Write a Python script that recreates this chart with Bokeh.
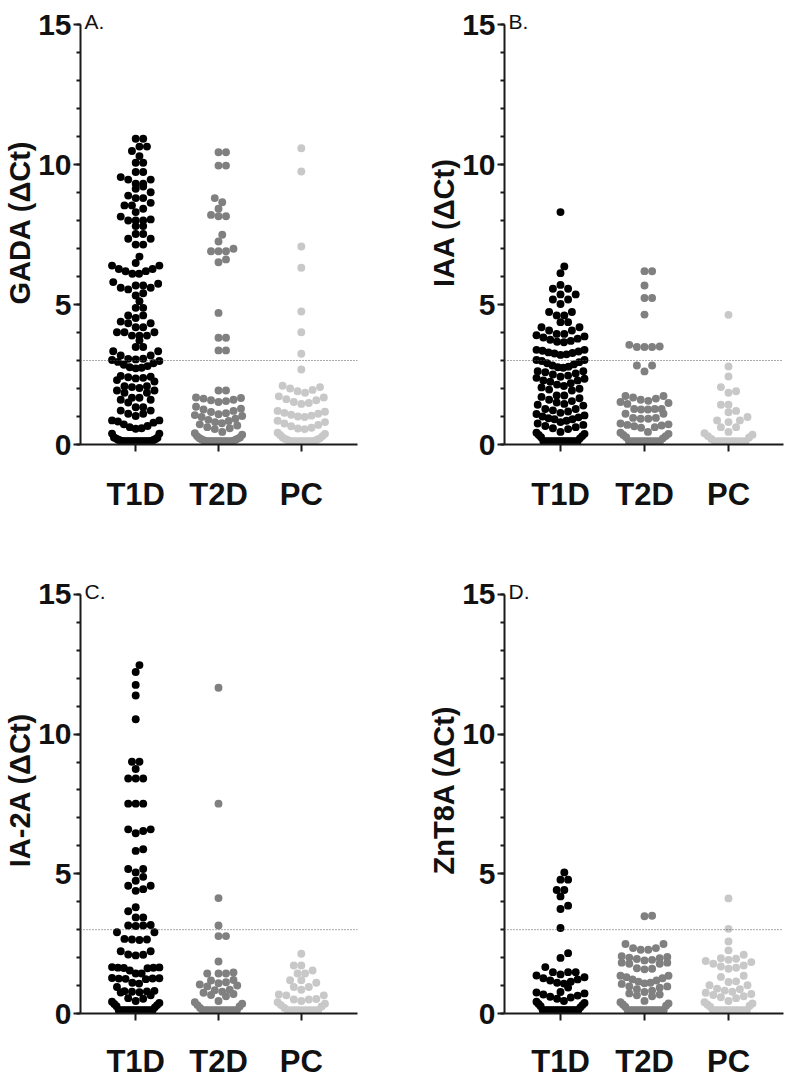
import math
from bokeh.plotting import figure
from bokeh.layouts import gridplot
from bokeh.models import Range1d, FixedTicker, Span, Label, ColumnDataSource, LinearAxis
from bokeh.embed import file_html
from bokeh.resources import INLINE

groups = ["T1D", "T2D", "PC"]
colors = ["#000000", "#808080", "#c8c8c8"]
cutoff = 3.0

gada_t1d = [10.92, 10.92, 10.64, 10.64, 10.48, 10.30, 10.06, 10.06, 9.73, 9.73, 9.55, 9.46, 9.46, 9.31, 9.31,
            9.21, 9.13, 9.01, 8.89, 8.80, 8.80, 8.63, 8.54, 8.54, 8.42, 8.30, 8.14, 8.04, 8.00, 8.00, 8.00,
            7.80, 7.80, 7.52, 7.52, 7.35, 7.35, 7.14, 7.14, 6.71, 6.48, 6.39, 6.39, 6.27, 6.27, 6.19, 6.19,
            6.10, 6.10, 5.80, 5.74, 5.68, 5.68, 5.60, 5.60, 5.54, 5.40, 5.32, 5.12, 4.88, 4.88, 4.61, 4.61,
            4.52, 4.39, 4.33, 4.33, 4.19, 4.19, 4.01, 4.01, 4.01, 3.89, 3.89, 3.89, 3.71, 3.48, 3.48, 3.33,
            3.33, 3.18, 3.18, 3.06, 3.06, 3.04, 3.02, 2.98, 2.95, 2.90, 2.85, 2.80, 2.76, 2.74, 2.72, 2.45,
            2.42, 2.40, 2.38, 2.36, 2.30, 2.25, 2.08, 2.08, 2.05, 2.02, 1.93, 1.93, 1.85, 1.85, 1.67, 1.67,
            1.60, 1.60, 1.50, 1.33, 1.33, 1.21, 1.21, 1.10, 1.10, 1.02, 0.86, 0.86, 0.82, 0.78, 0.72, 0.66,
            0.62, 0.58, 0.56, 0.39, 0.39, 0.25, 0.24, 0.22, 0.20, 0.18, 0.16, 0.15, 0.14, 0.13, 0.12, 0.12,
            0.12, 0.12, 0.12, 0.12, 0.12, 0.12, 0.12, 0.12, 0.12, 0.12, 0.12, 0.12, 0.12]
gada_t2d = [10.44, 10.44, 9.96, 9.96, 8.80, 8.65, 8.42, 8.20, 8.15, 8.15, 7.49, 7.25, 6.99, 6.90, 6.90, 6.90,
            6.61, 6.51, 4.70, 3.81, 3.81, 3.36, 3.36, 1.93, 1.93, 1.68, 1.66, 1.64, 1.60, 1.58, 1.55, 1.52,
            1.35, 1.28, 1.25, 1.20, 1.16, 1.12, 1.08, 1.05, 1.02, 0.98, 0.92, 0.88, 0.84, 0.80, 0.76, 0.72,
            0.68, 0.62, 0.58, 0.55, 0.45, 0.40, 0.35, 0.30, 0.25, 0.23, 0.21, 0.19, 0.17, 0.15, 0.14, 0.13,
            0.12, 0.12, 0.12, 0.12, 0.12, 0.12, 0.12, 0.12, 0.12, 0.12, 0.12, 0.12]
gada_pc = [10.58, 9.75, 7.07, 6.31, 4.75, 4.01, 3.24, 2.68, 2.10, 2.05, 2.00, 1.95, 1.90, 1.85, 1.72, 1.68,
           1.62, 1.58, 1.52, 1.48, 1.45, 1.20, 1.17, 1.13, 1.10, 1.06, 1.03, 1.00, 0.98, 0.85, 0.80, 0.75,
           0.70, 0.65, 0.60, 0.57, 0.55, 0.42, 0.38, 0.34, 0.30, 0.25, 0.22, 0.20, 0.18, 0.16, 0.14, 0.12,
           0.12, 0.12, 0.12, 0.12, 0.12, 0.12, 0.12, 0.12, 0.12]

iaa_t1d = [8.30, 6.36, 6.12, 5.70, 5.56, 5.56, 5.36, 5.36, 5.18, 5.18, 5.02, 4.73, 4.73, 4.61, 4.61, 4.37,
           4.37, 4.19, 4.19, 4.07, 4.07, 3.95, 3.95, 3.90, 3.86, 3.82, 3.78, 3.74, 3.70, 3.67, 3.65, 3.38,
           3.38, 3.35, 3.32, 3.29, 3.27, 3.25, 3.22, 3.20, 3.02, 3.02, 2.98, 2.94, 2.90, 2.86, 2.82, 2.78,
           2.76, 2.74, 2.62, 2.62, 2.58, 2.54, 2.50, 2.46, 2.42, 2.38, 2.35, 2.29, 2.29, 2.24, 2.19, 2.14,
           2.09, 2.04, 1.99, 1.96, 1.93, 1.75, 1.75, 1.70, 1.65, 1.60, 1.55, 1.50, 1.45, 1.42, 1.39, 1.27,
           1.27, 1.22, 1.18, 1.13, 1.09, 1.04, 1.00, 0.97, 0.94, 0.90, 0.90, 0.85, 0.80, 0.75, 0.70, 0.66,
           0.62, 0.58, 0.55, 0.45, 0.42, 0.38, 0.34, 0.30, 0.26, 0.22, 0.12, 0.12, 0.12, 0.12, 0.12, 0.12,
           0.12, 0.12, 0.12, 0.12, 0.12, 0.12, 0.12, 0.12, 0.12, 0.12]
iaa_t2d = [6.19, 6.19, 5.68, 5.23, 5.23, 4.64, 3.56, 3.50, 3.48, 3.48, 3.48, 2.82, 2.82, 2.61, 1.73, 1.73,
           1.68, 1.64, 1.60, 1.56, 1.52, 1.48, 1.45, 1.27, 1.27, 1.27, 1.25, 1.25, 1.10, 1.10, 0.95, 0.95,
           0.92, 0.92, 0.75, 0.72, 0.70, 0.68, 0.65, 0.62, 0.60, 0.45, 0.42, 0.38, 0.34, 0.30, 0.26, 0.22,
           0.12, 0.12, 0.12, 0.12, 0.12, 0.12, 0.12, 0.12, 0.12, 0.12, 0.12, 0.12]
iaa_pc = [4.63, 2.79, 2.43, 2.05, 1.90, 1.85, 1.42, 1.42, 1.20, 1.15, 0.98, 0.86, 0.86, 0.80, 0.62, 0.62,
          0.45, 0.40, 0.35, 0.30, 0.25, 0.20, 0.12, 0.12, 0.12, 0.12, 0.12, 0.12, 0.12, 0.12, 0.12, 0.12]

ia2a_t1d = [12.47, 12.22, 11.76, 11.38, 10.53, 9.01, 9.01, 8.75, 8.41, 8.41, 8.41, 7.51, 7.51, 7.51, 6.59,
            6.59, 6.53, 6.45, 5.88, 5.82, 5.17, 5.17, 5.05, 4.89, 4.75, 4.57, 4.57, 4.45, 4.39, 3.80, 3.66,
            3.44, 3.44, 3.17, 3.15, 3.15, 3.13, 2.91, 2.91, 2.67, 2.65, 2.65, 2.63, 2.23, 2.23, 2.11, 2.10,
            2.08, 1.66, 1.65, 1.64, 1.64, 1.63, 1.62, 1.54, 1.43, 1.43, 1.27, 1.26, 1.25, 1.25, 1.24, 1.23,
            1.10, 1.07, 0.95, 0.81, 0.80, 0.79, 0.78, 0.76, 0.75, 0.65, 0.55, 0.53, 0.45, 0.42, 0.38, 0.34,
            0.30, 0.26, 0.22, 0.12, 0.12, 0.12, 0.12, 0.12, 0.12, 0.12, 0.12, 0.12, 0.12, 0.12, 0.12, 0.12,
            0.12, 0.12, 0.12]
ia2a_t2d = [11.66, 7.51, 4.13, 3.15, 2.77, 2.77, 1.86, 1.47, 1.43, 1.43, 1.43, 1.20, 1.18, 1.12, 1.08, 1.04,
            1.00, 0.97, 0.85, 0.83, 0.78, 0.74, 0.70, 0.66, 0.62, 0.45, 0.40, 0.35, 0.30, 0.25, 0.20, 0.12,
            0.12, 0.12, 0.12, 0.12, 0.12, 0.12, 0.12, 0.12, 0.12, 0.12, 0.12, 0.12, 0.12]
ia2a_pc = [2.14, 1.72, 1.72, 1.54, 1.43, 1.43, 1.19, 1.19, 1.10, 0.95, 0.95, 0.85, 0.68, 0.65, 0.65, 0.52,
           0.50, 0.50, 0.45, 0.40, 0.35, 0.30, 0.25, 0.20, 0.12, 0.12, 0.12, 0.12, 0.12, 0.12, 0.12, 0.12,
           0.12, 0.12]

znt8a_t1d = [5.05, 4.79, 4.79, 4.42, 4.42, 4.19, 3.86, 3.74, 3.06, 2.16, 1.99, 1.66, 1.48, 1.48, 1.48, 1.40,
             1.36, 1.30, 1.26, 1.22, 1.18, 1.14, 1.10, 1.07, 0.93, 0.77, 0.75, 0.72, 0.68, 0.64, 0.60, 0.57,
             0.53, 0.45, 0.42, 0.38, 0.34, 0.30, 0.26, 0.22, 0.12, 0.12, 0.12, 0.12, 0.12, 0.12, 0.12, 0.12,
             0.12, 0.12, 0.12, 0.12, 0.12, 0.12, 0.12, 0.12, 0.12, 0.12]
znt8a_t2d = [3.50, 3.48, 2.49, 2.49, 2.34, 2.34, 2.28, 2.28, 2.05, 2.02, 2.00, 1.98, 1.95, 1.92, 1.90, 1.82,
             1.82, 1.78, 1.78, 1.62, 1.60, 1.58, 1.35, 1.35, 1.30, 1.26, 1.22, 1.18, 1.14, 1.10, 1.08, 1.06,
             0.97, 0.97, 0.92, 0.87, 0.82, 0.77, 0.72, 0.68, 0.65, 0.62, 0.45, 0.40, 0.36, 0.32, 0.28, 0.24,
             0.12, 0.12, 0.12, 0.12, 0.12, 0.12, 0.12, 0.12, 0.12, 0.12, 0.12, 0.12, 0.12, 0.12, 0.12, 0.12]
znt8a_pc = [4.12, 3.03, 2.58, 2.26, 2.10, 1.98, 1.96, 1.92, 1.88, 1.84, 1.78, 1.72, 1.68, 1.64, 1.60, 1.35,
            1.31, 1.15, 1.13, 1.01, 1.01, 0.89, 0.87, 0.82, 0.78, 0.74, 0.70, 0.66, 0.62, 0.58, 0.55, 0.45,
            0.40, 0.36, 0.32, 0.28, 0.24, 0.12, 0.12, 0.12, 0.12, 0.12, 0.12, 0.12, 0.12, 0.12, 0.12, 0.12,
            0.12, 0.12]

panels = [
    ("A.", "GADA (\u0394Ct)", [gada_t1d, gada_t2d, gada_pc]),
    ("B.", "IAA (\u0394Ct)", [iaa_t1d, iaa_t2d, iaa_pc]),
    ("C.", "IA-2A (\u0394Ct)", [ia2a_t1d, ia2a_t2d, ia2a_pc]),
    ("D.", "ZnT8A (\u0394Ct)", [znt8a_t1d, znt8a_t2d, znt8a_pc]),
]

PX_PER_CAT = 84.0
DOT = 7.9          # marker diameter (px)
GAP = 7.6          # nominal centre distance in the swarm (px)
HALF_W = 24.0      # max half width of a swarm (px)
ROW_H = 0.30       # value span of one swarm row
FONT = "Liberation Sans"
INK = "#1a1a1a"


def row_slots(n, s):
    slots = []
    if n % 2:
        slots.append(0.0)
        j = 1
        while len(slots) < n:
            slots.append(j * s)
            if len(slots) < n:
                slots.append(-j * s)
            j += 1
    else:
        j = 0
        while len(slots) < n:
            slots.append((j + 0.5) * s)
            slots.append(-(j + 0.5) * s)
            j += 1
    return slots


def swarm(vals, center, sx, sy):
    """Prism-like scatter-dot layout: rows of near-equal values spread centre-out."""
    order = sorted(range(len(vals)), key=lambda i: vals[i])
    rows = []
    for i in order:
        if rows and vals[i] - vals[rows[-1][0]] <= ROW_H:
            rows[-1].append(i)
        else:
            rows.append([i])
    grid = [0.0]
    k = 1
    while k * GAP / 2 <= HALF_W + 1e-9:
        grid += [k * GAP / 2, -k * GAP / 2]
        k += 1
    placed = []
    out = [0.0] * len(vals)
    for row in rows:
        n = len(row)
        if n >= 5:
            s = min(GAP, 2 * HALF_W / (n - 1))
            for i, c in zip(row, row_slots(n, s)):
                placed.append((c, vals[i] * sy))
                out[i] = center + c / sx
        else:
            for i in row:
                y = vals[i] * sy
                near = [(px, py) for px, py in placed if abs(py - y) < GAP]
                chosen, best, bestd = None, 0.0, -1.0
                for c in grid:
                    md = min((math.hypot(c - px, y - py) for px, py in near), default=1e9)
                    if md >= GAP * 0.98:
                        chosen = c
                        break
                    if md > bestd + 1e-9:
                        bestd, best = md, c
                if chosen is None:
                    chosen = best
                placed.append((chosen, y))
                out[i] = center + chosen / sx
    return out


def make_panel(letter, ylabel, data, w, h, left, right, top, bottom, extra_top, xstand):
    fw = w - left - right
    fh = h - top - bottom
    sy = (fh - extra_top) / 15.0
    x0 = 1 - 56.0 / PX_PER_CAT
    p = figure(width=w, height=h, output_backend="svg", toolbar_location=None,
               x_range=Range1d(x0, x0 + fw / PX_PER_CAT),
               y_range=Range1d(0, 15 + extra_top / sy),
               min_border_left=left, min_border_right=right,
               min_border_top=top, min_border_bottom=bottom)
    p.xgrid.visible = False
    p.ygrid.visible = False
    p.outline_line_color = None
    p.background_fill_color = "white"
    p.border_fill_color = "white"
    for gi, vals in enumerate(data):
        xs = swarm(vals, gi + 1, PX_PER_CAT, sy)
        src = ColumnDataSource(dict(x=xs, y=vals))
        p.scatter("x", "y", source=src, size=DOT, fill_color=colors[gi], line_color=None)
    p.add_layout(Span(location=cutoff, dimension="width", line_color="#555555",
                      line_width=1, line_dash="1 2"))
    ya = p.yaxis[0]
    ya.bounds = (0, 15)
    ya.ticker = FixedTicker(ticks=[0, 5, 10, 15], minor_ticks=list(range(0, 16)))
    ya.major_tick_out = 7
    ya.major_tick_in = 0
    ya.minor_tick_out = 4
    ya.minor_tick_in = 0
    ya.axis_line_width = 2
    ya.major_tick_line_width = 2
    ya.minor_tick_line_width = 2
    ya.axis_line_color = INK
    ya.major_tick_line_color = INK
    ya.minor_tick_line_color = INK
    ya.major_label_text_font = FONT
    ya.major_label_text_font_style = "bold"
    ya.major_label_text_font_size = "30px"
    ya.major_label_text_color = "#111111"
    ya.major_label_standoff = 2
    ta = LinearAxis(ticker=FixedTicker(ticks=[], minor_ticks=[]), bounds=(1.5, 15),
                    axis_label=ylabel, axis_line_color=None, major_tick_out=0, major_tick_in=0,
                    minor_tick_out=0, minor_tick_in=0, major_label_standoff=0,
                    axis_label_standoff=0, axis_label_text_font=FONT,
                    axis_label_text_font_style="bold", axis_label_text_font_size="29px",
                    axis_label_text_color="#111111")
    p.add_layout(ta, "left")
    xa = p.xaxis[0]
    xa.ticker = FixedTicker(ticks=[1, 2, 3], minor_ticks=[])
    xa.major_label_overrides = {1: groups[0], 2: groups[1], 3: groups[2]}
    xa.major_tick_out = 7
    xa.major_tick_in = 0
    xa.minor_tick_out = 0
    xa.axis_line_width = 2
    xa.major_tick_line_width = 2
    xa.axis_line_color = INK
    xa.major_tick_line_color = INK
    xa.major_label_text_font = FONT
    xa.major_label_text_font_style = "bold"
    xa.major_label_text_font_size = "31px"
    xa.major_label_text_color = "#111111"
    xa.major_label_standoff = xstand
    p.add_layout(Label(x=4, x_units="screen", y=15, y_units="data", y_offset=3, text=letter,
                       text_align="left", text_baseline="alphabetic",
                       text_font=FONT, text_font_size="21px", text_color="#111111"))
    return p


pA = make_panel(*panels[0], w=393, h=540, left=76, right=36, top=0, bottom=96, extra_top=24, xstand=25)
pB = make_panel(*panels[1], w=394, h=540, left=111, right=4, top=0, bottom=96, extra_top=24, xstand=25)
pC = make_panel(*panels[2], w=393, h=541, left=76, right=36, top=26, bottom=66, extra_top=28, xstand=23)
pD = make_panel(*panels[3], w=394, h=541, left=111, right=4, top=26, bottom=66, extra_top=28, xstand=23)

grid = gridplot([[pA, pB], [pC, pD]], toolbar_location=None)
open("out.html", "w").write(file_html(grid, INLINE))
